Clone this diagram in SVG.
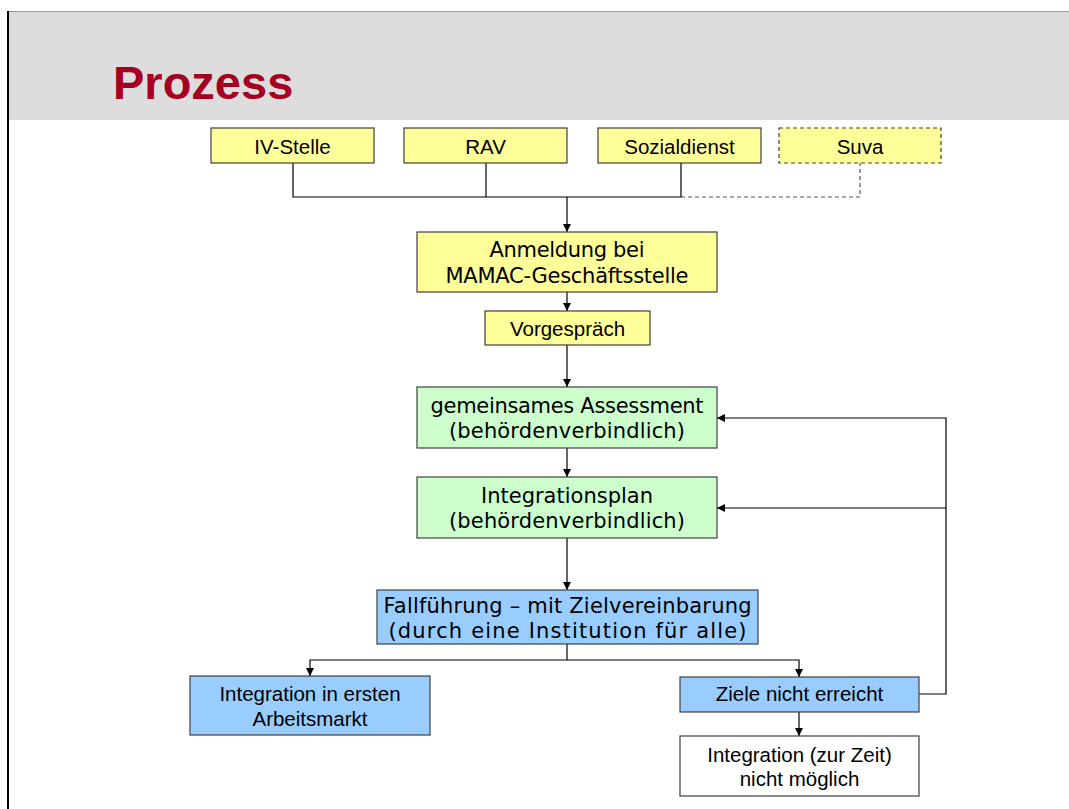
<svg xmlns="http://www.w3.org/2000/svg" width="1069" height="809" viewBox="0 0 1069 809">
<style>
.box{stroke:#404040;stroke-width:1.2}
.yel{fill:#FFFF99}
.grn{fill:#CCFFCC}
.blu{fill:#99CCFF}
.wht{fill:#FFFFFF}
.ar{font-family:"Liberation Sans",Arial,sans-serif;font-size:20.5px;fill:#000;text-anchor:middle}
.vd{font-family:"DejaVu Sans",Verdana,sans-serif;font-size:21px;fill:#000;text-anchor:middle}
.ln{fill:none;stroke:#000;stroke-width:1.2}
.dash{fill:none;stroke:#555;stroke-width:1.2;stroke-dasharray:4 3}
</style>
<defs>
<marker id="arr" markerUnits="userSpaceOnUse" markerWidth="9" markerHeight="9" refX="8" refY="4" orient="auto">
<path d="M0,0 L8,4 L0,8 z" fill="#000"/>
</marker>
</defs>
<rect x="0" y="0" width="1069" height="809" fill="#FFFFFF"/>
<g id="page">
<rect x="8" y="11" width="1061" height="109" fill="#DDDDDD"/>
<line x1="8" y1="11.5" x2="1069" y2="11.5" stroke="#999" stroke-width="1.2"/>
<line x1="8" y1="11" x2="8" y2="809" stroke="#000" stroke-width="2"/>
<text x="113" y="99" font-family="Liberation Sans,Arial,sans-serif" font-weight="bold" font-size="47" fill="#A50021">Prozess</text>
</g>
<g id="connectors">
<path class="ln" d="M293,163 V197 H681 V163"/>
<path class="ln" d="M486,163 V197"/>
<path class="dash" d="M681,197 H860 V163"/>
<path class="ln" d="M567,197 V232" stroke-width="2" marker-end="url(#arr)"/>
<path class="ln" d="M567,292 V311" marker-end="url(#arr)"/>
<path class="ln" d="M567,345 V387" marker-end="url(#arr)"/>
<path class="ln" d="M567,448 V477" marker-end="url(#arr)"/>
<path class="ln" d="M567,538 V590" marker-end="url(#arr)"/>
<path class="ln" d="M567,644 V660"/>
<path class="ln" d="M567,660 H310 V676" marker-end="url(#arr)"/>
<path class="ln" d="M567,660 H799 V677" marker-end="url(#arr)"/>
<path class="ln" d="M799,712 V736" marker-end="url(#arr)"/>
<path class="ln" d="M919,694 H946 V418 H717" marker-end="url(#arr)"/>
<path class="ln" d="M946,508 H717" marker-end="url(#arr)"/>
</g>
<g id="iv-stelle">
<rect class="box yel" x="211" y="128" width="163" height="35"/>
<text class="ar" x="292.5" y="154">IV-Stelle</text>
</g>
<g id="rav">
<rect class="box yel" x="404" y="128" width="163" height="35"/>
<text class="ar" x="485.5" y="154">RAV</text>
</g>
<g id="sozialdienst">
<rect class="box yel" x="598" y="128" width="163" height="35"/>
<text class="ar" x="679.5" y="154">Sozialdienst</text>
</g>
<g id="suva">
<rect class="box yel" x="779" y="128" width="162" height="35" stroke-dasharray="4 3"/>
<text class="ar" x="860" y="154">Suva</text>
</g>
<g id="anmeldung">
<rect class="box yel" x="417" y="232" width="300" height="60"/>
<text class="vd" x="567" y="257" textLength="155" lengthAdjust="spacing">Anmeldung bei</text>
<text class="vd" x="567" y="283" textLength="243" lengthAdjust="spacing">MAMAC-Geschäftsstelle</text>
</g>
<g id="vorgespraech">
<rect class="box yel" x="485" y="311" width="165" height="34"/>
<text class="ar" x="567.5" y="336">Vorgespräch</text>
</g>
<g id="assessment">
<rect class="box grn" x="417" y="387" width="300" height="61"/>
<text class="vd" x="567" y="413" textLength="273" lengthAdjust="spacing">gemeinsames Assessment</text>
<text class="vd" x="567" y="438" textLength="236" lengthAdjust="spacing">(behördenverbindlich)</text>
</g>
<g id="integrationsplan">
<rect class="box grn" x="417" y="477" width="300" height="61"/>
<text class="vd" x="567" y="503" textLength="172" lengthAdjust="spacing">Integrationsplan</text>
<text class="vd" x="567" y="528" textLength="236" lengthAdjust="spacing">(behördenverbindlich)</text>
</g>
<g id="fallfuehrung">
<rect class="box blu" x="377" y="590" width="381" height="54"/>
<text class="vd" x="567.5" y="613" textLength="368" lengthAdjust="spacing">Fallführung – mit Zielvereinbarung</text>
<text class="vd" x="567.5" y="638" textLength="358" lengthAdjust="spacing">(durch eine Institution für alle)</text>
</g>
<g id="integration-arbeitsmarkt">
<rect class="box blu" x="190" y="676" width="240" height="59"/>
<text class="ar" x="310" y="701">Integration in ersten</text>
<text class="ar" x="310" y="726">Arbeitsmarkt</text>
</g>
<g id="ziele">
<rect class="box blu" x="680" y="677" width="239" height="35"/>
<text class="ar" x="799.5" y="701">Ziele nicht erreicht</text>
</g>
<g id="nicht-moeglich">
<rect class="box wht" x="680" y="736" width="239" height="60"/>
<text class="ar" x="799.5" y="762">Integration (zur Zeit)</text>
<text class="ar" x="799.5" y="786">nicht möglich</text>
</g>
</svg>
